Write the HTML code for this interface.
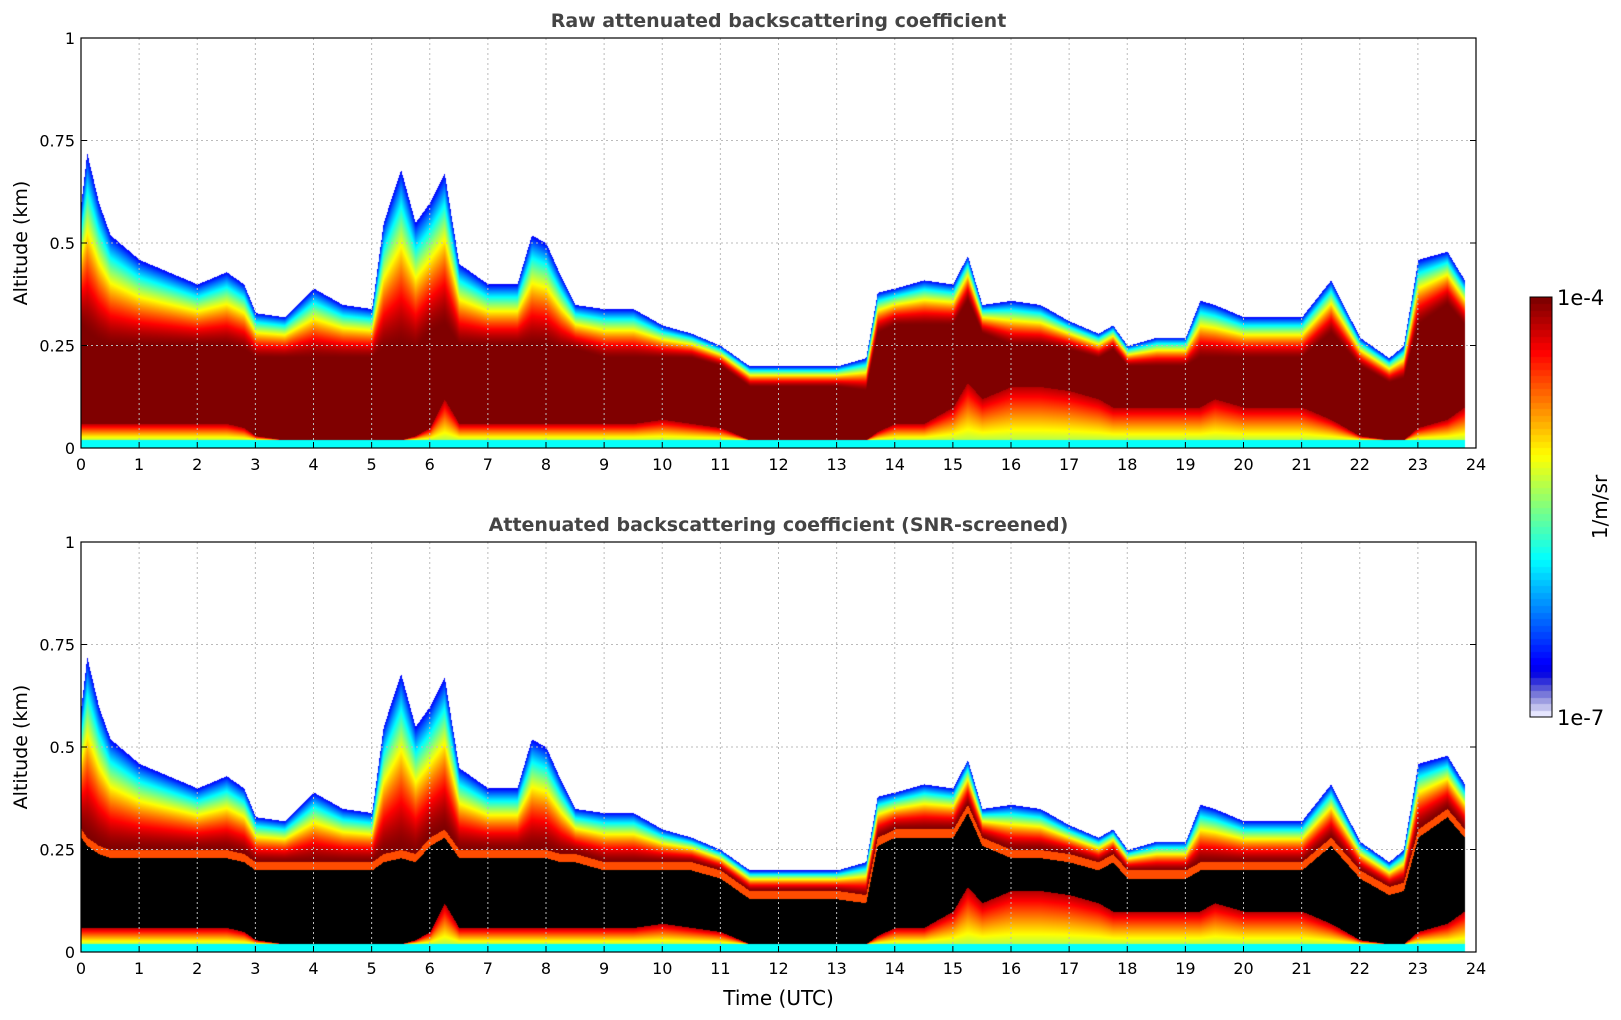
<!DOCTYPE html>
<html><head><meta charset="utf-8"><style>
body{margin:0;background:#fff;width:1621px;height:1020px;overflow:hidden;font-family:"DejaVu Sans","Liberation Sans",sans-serif;}
#wrap{position:relative;width:1621px;height:1020px;}
canvas,svg{position:absolute;left:0;top:0;}
</style></head><body>
<div id="wrap">
<canvas id="cv" width="1621" height="1020"></canvas>
<svg id="sv" width="1621" height="1020"></svg>
</div>
<script>
const times   = [0,0.1,0.3,0.5,1,1.5,2,2.5,2.8,3,3.5,4,4.5,5,5.2,5.5,5.75,6,6.25,6.5,7,7.5,7.75,8,8.25,8.5,9,9.5,10,10.5,11,11.5,12,12.5,13,13.5,13.7,14,14.5,15,15.25,15.5,16,16.5,17,17.5,17.75,18,18.5,19,19.25,19.5,20,20.5,21,21.5,22,22.5,22.75,23,23.5,23.8];
const layerTop= [0.6,0.72,0.6,0.52,0.46,0.43,0.4,0.43,0.4,0.33,0.32,0.39,0.35,0.34,0.55,0.68,0.55,0.6,0.67,0.45,0.4,0.4,0.52,0.5,0.42,0.35,0.34,0.34,0.3,0.28,0.25,0.2,0.2,0.2,0.2,0.22,0.38,0.39,0.41,0.4,0.47,0.35,0.36,0.35,0.31,0.28,0.3,0.25,0.27,0.27,0.36,0.35,0.32,0.32,0.32,0.41,0.27,0.22,0.25,0.46,0.48,0.41];
const coreTop = [0.3,0.28,0.26,0.25,0.25,0.25,0.25,0.25,0.24,0.22,0.22,0.22,0.22,0.22,0.24,0.25,0.24,0.28,0.3,0.25,0.25,0.25,0.25,0.25,0.24,0.24,0.22,0.22,0.22,0.22,0.2,0.15,0.15,0.15,0.15,0.14,0.28,0.3,0.3,0.3,0.36,0.28,0.25,0.25,0.24,0.22,0.24,0.2,0.2,0.2,0.22,0.22,0.22,0.22,0.22,0.28,0.2,0.16,0.17,0.3,0.35,0.3];
const coreBot = [0.06,0.06,0.06,0.06,0.06,0.06,0.06,0.06,0.05,0.03,0.02,0.02,0.02,0.02,0.02,0.02,0.03,0.05,0.12,0.06,0.06,0.06,0.06,0.06,0.06,0.06,0.06,0.06,0.07,0.06,0.05,0.02,0.02,0.02,0.02,0.02,0.04,0.06,0.06,0.1,0.16,0.12,0.15,0.15,0.14,0.12,0.1,0.1,0.1,0.1,0.1,0.12,0.1,0.1,0.1,0.07,0.03,0.02,0.02,0.05,0.07,0.1];
const xTicks=[0,1,2,3,4,5,6,7,8,9,10,11,12,13,14,15,16,17,18,19,20,21,22,23,24];
const yTicks=[0,0.25,0.5,0.75,1];
const yTickLabels=["0","0.25","0.5","0.75","1"];
const tEnd=23.8;

const X0=81,X1=1476;
const panels=[{top:38,bot:448,title:"Raw attenuated backscattering coefficient",screen:false,ty:27},
              {top:542,bot:952,title:"Attenuated backscattering coefficient (SNR-screened)",screen:true,ty:531}];
function xs(t){return X0+(X1-X0)*t/24;}
function interp(arr,t){
  for(let i=0;i<times.length-1;i++){ if(t<=times[i+1]){const f=(t-times[i])/(times[i+1]-times[i]);return arr[i]+(arr[i+1]-arr[i])*f;} }
  return arr[arr.length-1];
}
function jet(v){
  const c=x=>Math.max(0,Math.min(1,x));
  let r=c(1.5-Math.abs(4*v-3)),g=c(1.5-Math.abs(4*v-2)),b=c(1.5-Math.abs(4*v-1));
  if(v<0.1){const f=v/0.1;r=r*f+(1-f)*0.9;g=g*f+(1-f)*0.9;b=b*f+(1-f)*1;}
  return [r*255,g*255,b*255];
}
function val(z,tp,ct,cb){
  if(z>tp) return -1;
  if(z<0.02) return 0.38;
  if(z<cb) return 0.55+0.4*(z-0.02)/Math.max(0.001,cb-0.02);
  if(z<=ct) return 1;
  const f=(z-ct)/Math.max(0.01,tp-ct);
  return 1-0.88*Math.pow(f,1.5);
}
const cv=document.getElementById('cv'),ctx=cv.getContext('2d');
const img=ctx.createImageData(1621,1020),d=img.data;
for(let i=0;i<d.length;i+=4){d[i]=d[i+1]=d[i+2]=255;d[i+3]=255;}
panels.forEach(p=>{
  for(let px=X0;px<X1;px++){
    const t=(px-X0)/(X1-X0)*24; if(t>tEnd) continue;
    const tp=interp(layerTop,t),ct=interp(coreTop,t),cb=interp(coreBot,t);
    for(let py=p.top;py<p.bot;py++){
      const z=(p.bot-py)/(p.bot-p.top);
      let v=val(z,tp,ct,cb); if(v<0) continue;
      let col;
      if(p.screen && z>=cb && z<=ct-0.02) col=[0,0,0];
      else { if(p.screen && z>ct-0.02 && z<=ct) v=0.8; col=jet(v); }
      const k=(py*1621+px)*4; d[k]=col[0];d[k+1]=col[1];d[k+2]=col[2];
    }
  }
});
const CB={x0:1530,x1:1552,y0:297,y1:717},N=64;
for(let py=CB.y0;py<CB.y1;py++){
  const v=Math.floor((CB.y1-py)/(CB.y1-CB.y0)*N)/(N-1);
  const col=jet(Math.min(1,v));
  for(let px=CB.x0;px<CB.x1;px++){const k=(py*1621+px)*4;d[k]=col[0];d[k+1]=col[1];d[k+2]=col[2];}
}
ctx.putImageData(img,0,0);

const NS="http://www.w3.org/2000/svg",sv=document.getElementById('sv');
function el(tag,attrs,txt){const e=document.createElementNS(NS,tag);for(const k in attrs)e.setAttribute(k,attrs[k]);if(txt!==undefined)e.textContent=txt;sv.appendChild(e);return e;}
panels.forEach((p,pi)=>{
  const ys=v=>p.bot-(p.bot-p.top)*v;
  xTicks.forEach(t=>{
    if(t>0&&t<24){const g=el('line',{x1:xs(t),x2:xs(t),y1:p.top,y2:p.bot,stroke:'#bbb','stroke-dasharray':'2,3','stroke-width':1});
    
    }
    const tk=el('line',{x1:xs(t),x2:xs(t),y1:p.bot,y2:p.bot-6,stroke:'#000'});
    
    
    const tl=el('text',{x:xs(t),y:p.bot+22,'font-size':16,'text-anchor':'middle'},String(t));
    
    
  });
  yTicks.forEach((v,i)=>{
    if(v>0&&v<1){const g=el('line',{x1:X0,x2:X1,y1:ys(v),y2:ys(v),stroke:'#bbb','stroke-dasharray':'2,3'});
    
    }
    const tk=el('line',{x1:X0,x2:X0+6,y1:ys(v),y2:ys(v),stroke:'#000'});
    
    
    const tk2=el('line',{x1:X1,x2:X1-6,y1:ys(v),y2:ys(v),stroke:'#000'});
    
    
    const tl=el('text',{x:X0-6,y:ys(v)+6,'font-size':16,'text-anchor':'end'},yTickLabels[i]);
    
    
  });
  const fr=el('rect',{x:X0,y:p.top,width:X1-X0,height:p.bot-p.top,fill:'none',stroke:'#000','stroke-width':1.2});
  
  
  const ti=el('text',{x:(X0+X1)/2,y:p.ty,'font-size':19,'font-weight':'bold','text-anchor':'middle',fill:'#444'},p.title);
  
  
  const yl=el('text',{x:0,y:0,'font-size':19,'text-anchor':'middle',transform:`translate(27,${(p.top+p.bot)/2}) rotate(-90)`},'Altitude (km)');
  
  
});
const xl=el('text',{x:(X0+X1)/2,y:1005,'font-size':20,'text-anchor':'middle'},'Time (UTC)');


const cbf=el('rect',{x:CB.x0,y:CB.y0,width:CB.x1-CB.x0,height:CB.y1-CB.y0,fill:'none',stroke:'#000'});


const c1=el('text',{x:1557,y:305,'font-size':21},'1e-4');


const c2=el('text',{x:1557,y:725,'font-size':21},'1e-7');


const cu=el('text',{x:0,y:0,'font-size':20,'text-anchor':'middle',transform:'translate(1607,507) rotate(-90)'},'1/m/sr');


</script>
</body></html>
